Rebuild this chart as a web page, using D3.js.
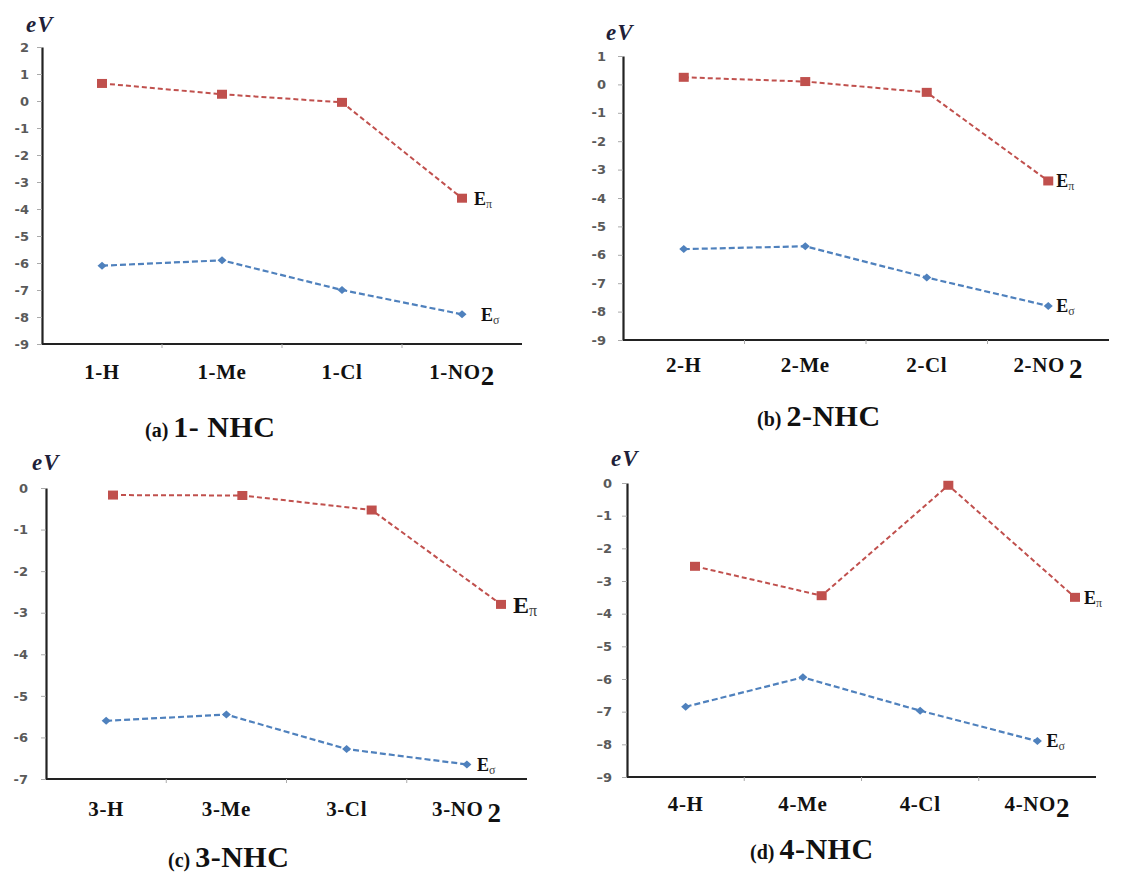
<!DOCTYPE html>
<html>
<head>
<meta charset="utf-8">
<script src="https://cdn.jsdelivr.net/npm/d3@7"></script>
<style>
  body { margin: 0; background: #fff; }
  svg { display: block; }
</style>
</head>
<body>
<svg id="chart" width="1126" height="876"></svg>
<script>
// categories
const catsA = ["1-H", "1-Me", "1-Cl", "1-NO2"];
const catsB = ["2-H", "2-Me", "2-Cl", "2-NO2"];
const catsC = ["3-H", "3-Me", "3-Cl", "3-NO2"];
const catsD = ["4-H", "4-Me", "4-Cl", "4-NO2"];

// E pi / E sigma values (eV)
const piA = [0.65, 0.25, -0.05, -3.6];
const sigmaA = [-6.1, -5.9, -7.0, -7.9];
const piB = [0.25, 0.1, -0.28, -3.4];
const sigmaB = [-5.8, -5.7, -6.8, -7.8];
const piC = [-0.17, -0.18, -0.53, -2.8];
const sigmaC = [-5.6, -5.45, -6.28, -6.65];
const piD = [-2.55, -3.45, -0.07, -3.5];
const sigmaD = [-6.85, -5.95, -6.97, -7.9];

// y tick labels
const ticksA = [2, 1, 0, -1, -2, -3, -4, -5, -6, -7, -8, -9];
const ticksB = [1, 0, -1, -2, -3, -4, -5, -6, -7, -8, -9];
const ticksC = [0, -1, -2, -3, -4, -5, -6, -7];
const ticksD = [0, -1, -2, -3, -4, -5, -6, -7, -8, -9];

const titleA = ["(a)", "1- NHC"];
const titleB = ["(b)", "2-NHC"];
const titleC = ["(c)", "3-NHC"];
const titleD = ["(d)", "4-NHC"];

const svg = d3.select("#chart");
const serif = "'Liberation Serif', 'Times New Roman', serif";
const red = "#c0504d";
const blue = "#4f81bd";

function drawPanel(cats, pi, sigma, ticks, title, lay) {
  const g = svg.append("g");

  const x = d3.scaleBand().domain(cats).range(lay.xr);
  const xPi = lay.piRange
    ? d3.scalePoint().domain(cats).range(lay.piRange)
    : (d) => x(d) + x.bandwidth() / 2;
  const xSig = (d) => x(d) + x.bandwidth() / 2;
  const y = d3.scaleLinear().domain(d3.extent(ticks)).range(lay.yr);
  const yBase = lay.yr[0];

  // y axis
  const yAxis = d3.axisLeft(y)
    .tickValues(ticks)
    .tickSize(5)
    .tickSizeOuter(0)
    .tickPadding(lay.pad)
    .tickFormat((d) => (lay.dash && d < 0 ? "\u2013" + Math.abs(d) : String(d)));
  const ya = g.append("g").attr("transform", `translate(${lay.xr[0]},0)`).call(yAxis);
  ya.select(".domain").attr("stroke", "#222").attr("stroke-width", 2.2);
  ya.selectAll(".tick line").attr("stroke", "#aaa");
  ya.selectAll(".tick text")
    .attr("fill", "#5a5a5a")
    .style("font-family", "'DejaVu Sans', sans-serif")
    .style("font-weight", "bold")
    .style("font-size", "13px");

  // x axis line + small ticks at band edges
  g.append("line")
    .attr("x1", lay.xr[0]).attr("x2", lay.xr[1])
    .attr("y1", yBase).attr("y2", yBase)
    .attr("stroke", "#222").attr("stroke-width", 2.2);
  g.selectAll(".xtick")
    .data(cats.slice(1))
    .enter()
    .append("line")
    .attr("x1", (d) => x(d)).attr("x2", (d) => x(d))
    .attr("y1", yBase).attr("y2", yBase + 4)
    .attr("stroke", "#aaa");

  // category labels
  const lab = g.selectAll(".cat")
    .data(cats)
    .enter()
    .append("text")
    .attr("x", (d) => xSig(d))
    .attr("y", yBase + lay.catDy)
    .attr("text-anchor", "middle")
    .style("font-family", serif)
    .style("font-weight", "bold")
    .style("font-size", "21px")
    .style("letter-spacing", "0.6px")
    .attr("fill", "#111");
  lab.each(function (d) {
    const t = d3.select(this);
    if (d.endsWith("NO2")) {
      t.append("tspan").text(d.slice(0, -1));
      t.append("tspan").attr("dx", lay.subGap).attr("dy", 6)
        .style("font-size", "27px").text("2");
    } else {
      t.text(d);
    }
  });

  // lines
  const sigLine = d3.line().x((d, i) => xSig(cats[i])).y((d) => y(d));
  const piLine = d3.line().x((d, i) => xPi(cats[i])).y((d) => y(d));

  g.append("path").datum(sigma)
    .attr("d", sigLine).attr("fill", "none")
    .attr("stroke", blue).attr("stroke-width", 2.2)
    .attr("stroke-dasharray", "6,3");
  g.append("path").datum(pi)
    .attr("d", piLine).attr("fill", "none")
    .attr("stroke", red).attr("stroke-width", 2)
    .attr("stroke-dasharray", "5,3");

  g.selectAll(".dia").data(sigma).enter().append("path")
    .attr("transform", (d, i) => `translate(${xSig(cats[i])},${y(d)})`)
    .attr("d", "M0,-4L4.5,0L0,4L-4.5,0Z")
    .attr("fill", blue);
  g.selectAll(".sq").data(pi).enter().append("rect")
    .attr("x", (d, i) => xPi(cats[i]) - 5)
    .attr("y", (d) => y(d) - 4.5)
    .attr("width", 10).attr("height", 9)
    .attr("fill", red);

  // series labels
  function seriesLabel(xp, yp, sub, size) {
    const t = g.append("text")
      .attr("x", xp).attr("y", yp + size * 0.35)
      .style("font-family", serif)
      .style("font-weight", "bold")
      .style("font-size", size + "px")
      .attr("fill", "#111");
    t.append("tspan").text("E");
    t.append("tspan").attr("dy", 3)
      .style("font-size", Math.round(size * 0.65) + "px")
      .style("font-weight", "normal")
      .attr("fill", "#444")
      .text(sub);
  }
  const last = cats[cats.length - 1];
  seriesLabel(xPi(last) + lay.lblDx[0], y(pi[pi.length - 1]), "\u03c0", lay.piSize);
  seriesLabel(xSig(last) + lay.lblDx[1], y(sigma[sigma.length - 1]), "\u03c3", 18);

  // eV unit
  g.append("text")
    .attr("x", lay.ev[0]).attr("y", lay.ev[1])
    .style("font-family", serif)
    .style("font-weight", "bold")
    .style("font-style", "italic")
    .style("font-size", "23px")
    .style("letter-spacing", "1px")
    .attr("fill", "#1f1f3a")
    .text("eV");

  // panel title
  const tt = g.append("text")
    .attr("x", lay.title[0]).attr("y", lay.title[1])
    .style("font-family", serif)
    .style("font-weight", "bold")
    .attr("fill", "#111");
  tt.append("tspan").style("font-size", "20px").text(title[0] + " ");
  tt.append("tspan").style("font-size", "30px").style("letter-spacing", "0.5px").text(title[1]);
}

drawPanel(catsA, piA, sigmaA, ticksA, titleA, {
  xr: [42, 522], yr: [344, 47], pad: 8, catDy: 35, subGap: 0,
  lblDx: [12, 19], piSize: 18, ev: [26, 32], title: [145, 437]
});
drawPanel(catsB, piB, sigmaB, ticksB, titleB, {
  xr: [623, 1109], yr: [340, 56], pad: 12, catDy: 32, subGap: 4,
  lblDx: [8, 8], piSize: 18, ev: [606, 40], title: [757, 426]
});
drawPanel(catsC, piC, sigmaC, ticksC, titleC, {
  xr: [46, 527], yr: [779, 488], pad: 13, catDy: 37, subGap: 4,
  lblDx: [12, 10], piSize: 24, ev: [32, 470], title: [168, 867],
  piRange: [113, 501]
});
drawPanel(catsD, piD, sigmaD, ticksD, titleD, {
  xr: [627, 1096], yr: [777, 483], pad: 10, catDy: 34, subGap: 0,
  lblDx: [9, 9], piSize: 18, ev: [611, 466], title: [750, 859],
  piRange: [695, 1075], dash: true
});
</script>
</body>
</html>
